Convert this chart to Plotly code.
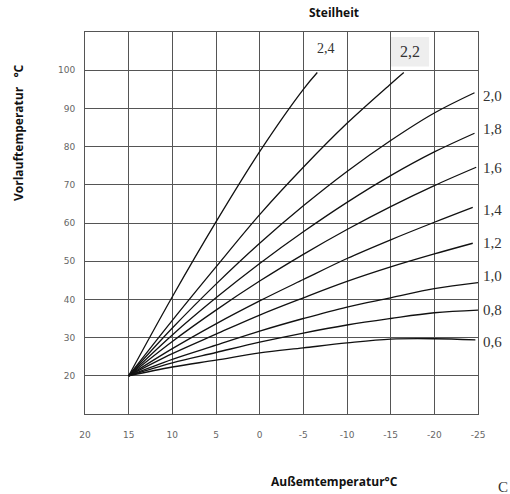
import plotly.graph_objects as go

# Außentemperatur grid points (°C)
x_std = [15, 10, 5, 0, -5, -10, -15, -20]

# Heating curves (Steilheit)
steilheit_labels = ["2,4", "2,2", "2,0", "1,8", "1,6", "1,4", "1,2", "1,0", "0,8", "0,6"]

x_24 = [15, 10, 5, 0, -5, -6.6]
y_24 = [20, 40.7, 60.3, 78.7, 95.0, 99.4]

x_22 = [15, 10, 5, 0, -5, -10, -15, -16.5]
y_22 = [20, 34.5, 48.5, 62.2, 74.6, 86.1, 96.4, 99.4]

x_20 = x_std + [-24.6]
y_20 = [20, 32.5, 44.0, 54.7, 64.5, 73.5, 81.6, 88.8, 94.1]

x_18 = x_std + [-24.6]
y_18 = [20, 30.7, 40.4, 49.4, 57.7, 65.4, 72.4, 78.6, 83.5]

x_16 = x_std + [-24.8]
y_16 = [20, 29.0, 37.2, 44.8, 51.8, 58.3, 64.3, 69.8, 74.6]

x_14 = x_std + [-24.4]
y_14 = [20, 27.1, 33.6, 39.6, 45.2, 50.7, 55.6, 60.2, 64.1]

x_12 = x_std + [-24.4]
y_12 = [20, 25.8, 30.9, 35.9, 40.4, 44.7, 48.5, 51.9, 54.7]

x_10 = x_std + [-25]
y_10 = [20, 24.3, 28.0, 31.7, 35.0, 38.0, 40.4, 42.8, 44.4]

x_08 = x_std + [-25]
y_08 = [20, 23.4, 26.1, 28.8, 31.2, 33.3, 35.0, 36.5, 37.2]

x_06 = x_std + [-24.7]
y_06 = [20, 22.3, 24.1, 26.0, 27.3, 28.6, 29.6, 29.7, 29.4]

# label positions at right side (y values)
right_labels = ["2,0", "1,8", "1,6", "1,4", "1,2", "1,0", "0,8", "0,6"]
right_label_y = [93.2, 84.5, 74.5, 63.5, 54.8, 46.2, 37.2, 28.8]

x_ticks = [20, 15, 10, 5, 0, -5, -10, -15, -20, -25]
y_ticks = [20, 30, 40, 50, 60, 70, 80, 90, 100]

curves = [(x_24, y_24), (x_22, y_22), (x_20, y_20), (x_18, y_18), (x_16, y_16),
          (x_14, y_14), (x_12, y_12), (x_10, y_10), (x_08, y_08), (x_06, y_06)]

W, H = 510, 494
L, R, T, B = 85, 32, 32, 80
pw, ph = W - L - R, H - T - B

fig = go.Figure()
for (xs, ys), name in zip(curves, steilheit_labels):
    fig.add_trace(go.Scatter(x=xs, y=ys, mode="lines", name=name,
                             line=dict(color="#111111", width=1.3, shape="spline", smoothing=1.0),
                             showlegend=False, hoverinfo="skip"))

grid_col = "#555555"
fig.update_xaxes(range=[20, -25], tickvals=x_ticks, ticktext=[str(v) for v in x_ticks],
                 showgrid=True, gridcolor=grid_col, gridwidth=1,
                 showline=True, linecolor=grid_col, linewidth=1, mirror=True,
                 zeroline=False, ticks="", ticklabelstandoff=12,
                 tickfont=dict(family="DejaVu Sans", size=9, color="#666666"))
fig.update_yaxes(range=[10, 110], tickvals=[10] + y_ticks + [110],
                 ticktext=[""] + [str(v) for v in y_ticks] + [""],
                 showgrid=True, gridcolor=grid_col, gridwidth=1,
                 showline=True, linecolor=grid_col, linewidth=1, mirror=True,
                 zeroline=False, ticks="", ticklabelstandoff=7,
                 tickfont=dict(family="DejaVu Sans", size=9, color="#666666"))

serif = "Liberation Serif"


def px_x(v):
    return (v - L) / pw


def px_y(v):
    return 1 - (v - T) / ph


def data_to_py(yv):
    return T + (110 - yv) / 100 * ph


def note(x, y, text, font, **kw):
    d = dict(x=x, y=y, text=text, showarrow=False, font=font,
             xanchor="center", yanchor="middle")
    d.update(kw)
    return d


ann = []
ann.append(note(-7.6, 105.6, "2,4", dict(family=serif, size=14, color="#333333"),
                xref="x", yref="y"))
ann.append(note(-17.2, 104.8, "2,2", dict(family=serif, size=16, color="#333333"),
                xref="x", yref="y"))
for lab, yv in zip(right_labels, right_label_y):
    ann.append(note(px_x(481), px_y(data_to_py(yv)), lab,
                    dict(family=serif, size=15, color="#333333"),
                    xref="paper", yref="paper", xanchor="left"))
bold = dict(family="Open Sans", size=12, color="#111111")
ann.append(note(px_x(334), px_y(13), "<b>Steilheit</b>", bold, xref="paper", yref="paper"))
ann.append(note(px_x(334), px_y(481), "<b>Außemtemperatur°C</b>", bold,
                xref="paper", yref="paper"))
ann.append(note(px_x(18), px_y(133), "<b>Vorlauftemperatur   °C</b>", bold,
                xref="paper", yref="paper", textangle=-90))
ann.append(note(px_x(503), px_y(487), "C", dict(family=serif, size=15, color="#333333"),
                xref="paper", yref="paper"))
fig.update_layout(annotations=ann)

fig.add_shape(type="rect", xref="x", yref="y", x0=-14.95, x1=-19.4, y0=101, y1=108.7,
              fillcolor="#eeeeee", line=dict(width=0), layer="below")

fig.update_layout(width=W, height=H, margin=dict(l=L, r=R, t=T, b=B),
                  paper_bgcolor="white", plot_bgcolor="white")
fig.write_html("out.html", config={"displayModeBar": False},
               post_script="document.body.style.margin='0';document.body.style.padding='0';")
